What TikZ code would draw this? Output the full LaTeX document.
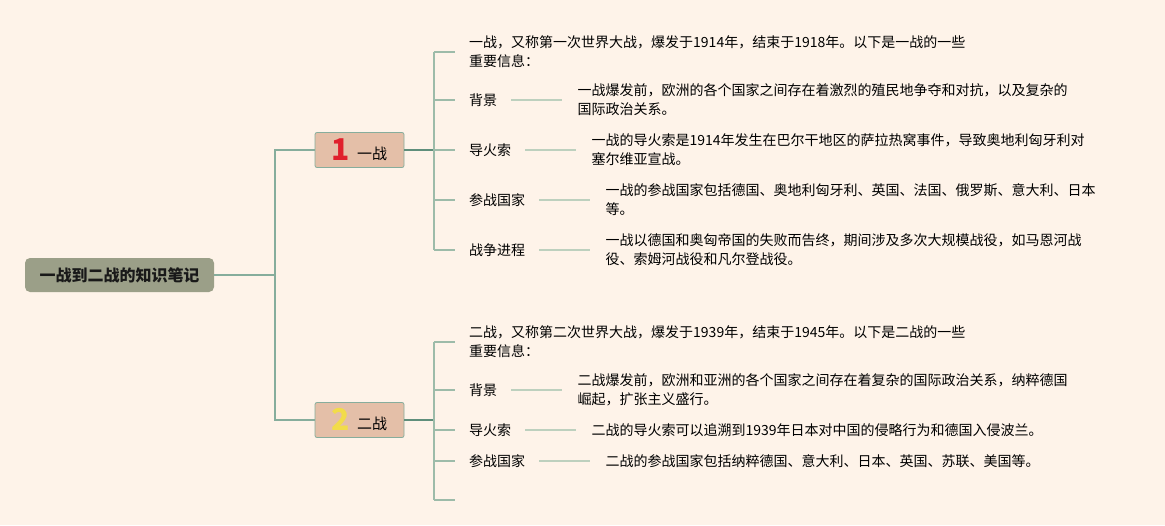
\documentclass[tikz,border=0pt]{standalone}
\usepackage{fontspec}
\setmainfont{Noto Sans CJK SC}
\usetikzlibrary{positioning}
\definecolor{bgcream}{HTML}{FEF3E9}
\definecolor{rootolive}{HTML}{9B9F88}
\definecolor{topicpeach}{HTML}{E4BFA8}
\definecolor{trunkgreen}{HTML}{86AD9C}
\definecolor{forkgreen}{HTML}{5F8E7B}
\definecolor{tickgreen}{HTML}{9DBBA9}
\definecolor{leafgreen}{HTML}{BDD0BE}
\definecolor{numred}{HTML}{E0202C}
\definecolor{numyellow}{HTML}{F2DC4A}
\tikzstyle{trunk} = [draw=trunkgreen, line width=1.5pt]
\tikzstyle{fork} = [draw=forkgreen, line width=1.8pt]
\tikzstyle{tick} = [draw=tickgreen, line width=1.3pt]
\tikzstyle{leaf} = [draw=leafgreen, line width=1.4pt]
\tikzstyle{rootbox} = [fill=rootolive, rounded corners=5pt, minimum width=189pt, minimum height=34pt, font=\fontsize{16}{16}\selectfont\bfseries, text=black!90]
\tikzstyle{topicbox} = [fill=topicpeach, draw=trunkgreen, line width=0.8pt, rounded corners=2pt, minimum width=89pt, minimum height=35pt, inner sep=0pt, font=\fontsize{15}{15}\selectfont, text=black]
\tikzstyle{lbl} = [inner sep=0pt, anchor=west, font=\fontsize{14}{19}\selectfont, text=black]
\tikzstyle{desc} = [inner sep=0pt, align=left, font=\fontsize{14}{19}\selectfont, text=black]
\newcommand{\warnum}[2]{{\fontsize{30}{30}\selectfont\bfseries\color{#1}#2}}

\begin{document}
\begin{tikzpicture}[x=1pt,y=-1pt]
% Background
\fill[bgcream] (0,0) rectangle (1165,525);
\useasboundingbox (0,0) rectangle (1165,525);

% Root and the two wars
\node[rootbox] (root) at (119.5,275) {一战到二战的知识笔记};
\node[topicbox] (war1) at (359.5,150) {\raisebox{-1pt}{\warnum{numred}{1}}\hspace{7pt}一战};
\node[topicbox] (war2) at (359.5,420) {\raisebox{-1pt}{\warnum{numyellow}{2}}\hspace{7pt}二战};
\coordinate (hub) at (275,275);
\coordinate (fork1) at (434,150);
\coordinate (fork2) at (434,420);

% Draw trunk lines
\draw[trunk] (root.east) -- (hub);
\draw[trunk] (war1.west) -| (hub) |- (war2.west);
\draw[fork] (war1.east) -- (fork1);
\draw[fork] (war2.east) -- (fork2);

% Intro texts
\node[desc, anchor=west] (intro1) at (469,52) {一战，又称第一次世界大战，爆发于1914年，结束于1918年。以下是一战的一些\\重要信息：};
\node[desc, anchor=west] (intro2) at (469,342) {二战，又称第二次世界大战，爆发于1939年，结束于1945年。以下是二战的一些\\重要信息：};

% Put in labels
\foreach \n/\y/\t in {bg1/100/背景, fuse1/150/导火索, side1/200/参战国家, course1/250/战争进程,
                      bg2/390/背景, fuse2/430/导火索, side2/461/参战国家}
    \node[lbl] (\n) at (469,\y) {\t};
\coordinate (end2) at (455,500);

% Add descriptions for each label
\foreach \n/\t in {bg1/{一战爆发前，欧洲的各个国家之间存在着激烈的殖民地争夺和对抗，以及复杂的\\国际政治关系。},
                   fuse1/{一战的导火索是1914年发生在巴尔干地区的萨拉热窝事件，导致奥地利匈牙利对\\塞尔维亚宣战。},
                   side1/{一战的参战国家包括德国、奥地利匈牙利、英国、法国、俄罗斯、意大利、日本\\等。},
                   course1/{一战以德国和奥匈帝国的失败而告终，期间涉及多次大规模战役，如马恩河战\\役、索姆河战役和凡尔登战役。},
                   bg2/{二战爆发前，欧洲和亚洲的各个国家之间存在着复杂的国际政治关系，纳粹德国\\崛起，扩张主义盛行。},
                   fuse2/{二战的导火索可以追溯到1939年日本对中国的侵略行为和德国入侵波兰。},
                   side2/{二战的参战国家包括纳粹德国、意大利、日本、英国、苏联、美国等。}}
    \node[desc, right=80pt of \n] (\n-d) {\t};

% Draw vertical lines
\draw[tick] (fork1 |- intro1.west) -- (fork1 |- course1.west);
\draw[tick] (fork2 |- intro2.west) -- (fork2 |- end2);

% Draw ticks to the labels
\foreach \n in {intro1,bg1,fuse1,side1,course1,intro2,bg2,fuse2,side2}
    \draw[tick] (fork1 |- \n.west) -- ([xshift=-14pt]\n.west);
\draw[tick] (fork2 |- end2) -- (end2);

% Draw label connectors
\foreach \n in {bg1,fuse1,side1,course1,bg2,fuse2,side2}
    \draw[leaf] ([xshift=14pt]\n.east) -- ([xshift=-15pt]\n-d.west);

\end{tikzpicture}
\end{document}
